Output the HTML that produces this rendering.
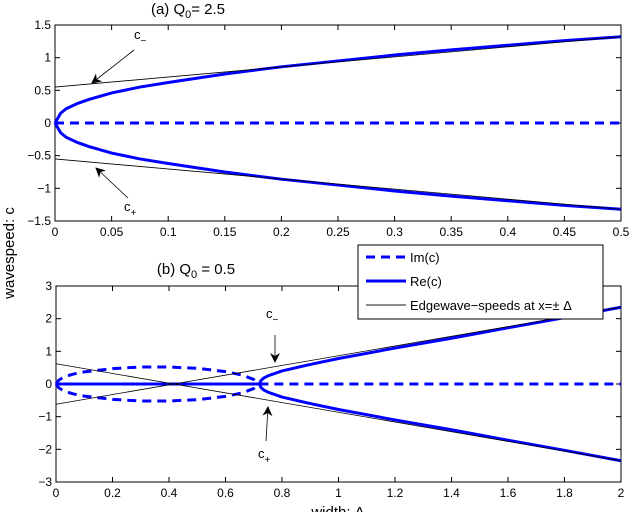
<!DOCTYPE html>
<html><head><meta charset="utf-8"><style>
body{margin:0;background:#fff}
svg{display:block;font-family:"Liberation Sans",sans-serif}
</style></head><body>
<svg id="chart" width="630" height="512" viewBox="0 0 630 512">
<defs><marker id="ah" markerWidth="10" markerHeight="10" refX="9" refY="5" orient="auto" markerUnits="userSpaceOnUse"><path d="M0,0 L10,5 L0,10 L3,5 Z" fill="#000"/></marker></defs>
<g id="top"></g>
<g id="bot"></g>
<text x="188" y="14" font-size="15" text-anchor="middle">(a) Q<tspan font-size="11" dy="4">0</tspan><tspan dy="-4">= 2.5</tspan></text>
<text x="196" y="274" font-size="15" text-anchor="middle">(b) Q<tspan font-size="11" dy="4">0</tspan><tspan dy="-4"> = 0.5</tspan></text>
<text transform="translate(14,253) rotate(-90)" font-size="15" text-anchor="middle">wavespeed: c</text>
<text x="338" y="517" font-size="15" text-anchor="middle">width: Δ</text>
</svg>
<script>
// Panel (a) data
const aX=[0,0.005,0.01,0.02,0.03,0.05,0.075,0.1,0.15,0.2,0.25,0.3,0.35,0.4,0.45,0.5];
const aRe=[0,0.15,0.22,0.3,0.36,0.46,0.55,0.62,0.75,0.86,0.95,1.04,1.12,1.19,1.26,1.32];
const aEdgeX=[0,0.5];
const aEdge=[0.55,1.32];
const aXTicks=[0,0.05,0.1,0.15,0.2,0.25,0.3,0.35,0.4,0.45,0.5];
const aYTicks=[-1.5,-1,-0.5,0,0.5,1,1.5];
// Panel (b) data
const bBranchX=[0.72,0.725,0.735,0.75,0.8,0.9,1.0,1.2,1.4,1.6,1.8,2.0];
const bRe=[0,0.1,0.18,0.25,0.4,0.6,0.78,1.1,1.4,1.72,2.03,2.35];
const bImX=[0,0.01,0.03,0.06,0.1,0.2,0.3,0.4,0.5,0.6,0.66,0.7,0.72];
const bIm=[0,0.12,0.22,0.3,0.37,0.47,0.52,0.52,0.48,0.38,0.27,0.14,0];
const bEdgeX=[0,2];
const bEdge=[-0.62,2.35];
const bXTicks=[0,0.2,0.4,0.6,0.8,1,1.2,1.4,1.6,1.8,2];
const bYTicks=[-3,-2,-1,0,1,2,3];
const NS="http://www.w3.org/2000/svg";
function mk(p,t,a){const e=document.createElementNS(NS,t);for(const k in a)e.setAttribute(k,a[k]);p.appendChild(e);return e;}
function panel(g,L,R,T,B,xmin,xmax,ymin,ymax,xt,yt){
  const sx=v=>L+(v-xmin)/(xmax-xmin)*(R-L), sy=v=>B-(v-ymin)/(ymax-ymin)*(B-T);
  xt.forEach(v=>{
    const l=mk(g,'line',{x1:sx(v),x2:sx(v),y1:B,y2:B-5,stroke:'#000'});
    
    
    mk(g,'line',{x1:sx(v),x2:sx(v),y1:T,y2:T+5,stroke:'#000'});
    const t=mk(g,'text',{x:sx(v),y:B+15,'font-size':12,'text-anchor':'middle'});t.textContent=String(v);
    
    
  });
  yt.forEach(v=>{
    mk(g,'line',{x1:L,x2:L+5,y1:sy(v),y2:sy(v),stroke:'#000'});
    mk(g,'line',{x1:R,x2:R-5,y1:sy(v),y2:sy(v),stroke:'#000'});
    const t=mk(g,'text',{x:L-4,y:sy(v)+4,'font-size':12,'text-anchor':'end'});t.textContent=String(v).replace('-','\u2212');
    
    
  });
  const r=mk(g,'rect',{x:L,y:T,width:R-L,height:B-T,fill:'none',stroke:'#000'});
  
  
  return {sx,sy};
}
function poly(g,sx,sy,xs,ys,sign,attrs,name){
  const pts=xs.map((x,i)=>sx(x)+','+sy(sign*ys[i])).join(' ');
  const p=mk(g,'polyline',Object.assign({points:pts,fill:'none'},attrs));
  
  
}
const blueS={stroke:'#0000ff','stroke-width':3};
const blueD={stroke:'#0000ff','stroke-width':3,'stroke-dasharray':'9,6'};
const edge={stroke:'#000','stroke-width':0.8};
// Panel a
const gA=document.getElementById('top');
const A=panel(gA,55,621,25,221,0,0.5,-1.5,1.5,aXTicks,aYTicks);
poly(gA,A.sx,A.sy,[0,0.5],[0,0],1,blueD,'im-line-a');
poly(gA,A.sx,A.sy,aX,aRe,1,blueS,'re-upper-a');
poly(gA,A.sx,A.sy,aX,aRe,-1,blueS,'re-lower-a');
poly(gA,A.sx,A.sy,aEdgeX,aEdge,1,edge,'edge-c-minus-a');
poly(gA,A.sx,A.sy,aEdgeX,aEdge,-1,edge,'edge-c-plus-a');
// Panel b
const gB=document.getElementById('bot');
const B=panel(gB,56,621,286,482,0,2,-3,3,bXTicks,bYTicks);
poly(gB,B.sx,B.sy,[0.72,2],[0,0],1,blueD,'im-zero-b');
poly(gB,B.sx,B.sy,bImX,bIm,1,blueD,'im-upper-b');
poly(gB,B.sx,B.sy,bImX,bIm,-1,blueD,'im-lower-b');
poly(gB,B.sx,B.sy,[0,0.72],[0,0],1,blueS,'re-zero-b');
poly(gB,B.sx,B.sy,bBranchX,bRe,1,blueS,'re-upper-b');
poly(gB,B.sx,B.sy,bBranchX,bRe,-1,blueS,'re-lower-b');
poly(gB,B.sx,B.sy,bEdgeX,bEdge,1,edge,'edge-c-minus-b');
poly(gB,B.sx,B.sy,bEdgeX,bEdge,-1,edge,'edge-c-plus-b');
// Annotations
const svg=document.getElementById('chart');
function ann(x1,y1,x2,y2,lx,ly,sub,name){
  const l=mk(svg,'line',{x1,y1,x2,y2,stroke:'#000','stroke-width':0.8,'marker-end':'url(#ah)'});
  
  
  const t=mk(svg,'text',{x:lx,y:ly,'font-size':13});
  
  
  t.innerHTML='c<tspan font-size="10" dy="5">'+sub+'</tspan>';
}
ann(134,50,92,83,134,39,'\u2212','c-minus-a');
ann(128,198,96,168,124,211,'+','c-plus-a');
ann(275,335,275,362,266,318,'\u2212','c-minus-b');
ann(266,441,268,407,258,458,'+','c-plus-b');
// Legend
const lg=mk(svg,'g',{});


mk(lg,'rect',{x:358,y:245,width:245,height:74,fill:'#fff',stroke:'#000'});
const items=[['Im(c)',blueD],['Re(c)',blueS],['Edgewave\u2212speeds at x=\u00b1 \u0394',{stroke:'#666','stroke-width':1.5}]];
items.forEach((it,i)=>{
  const y=257+i*24;
  const e=mk(lg,'g',{});
  
  
  mk(e,'line',Object.assign({x1:366,x2:406,y1:y,y2:y},it[1]));
  const t=mk(e,'text',{x:410,y:y+5,'font-size':13});t.textContent=it[0];
});
</script>
</body></html>
